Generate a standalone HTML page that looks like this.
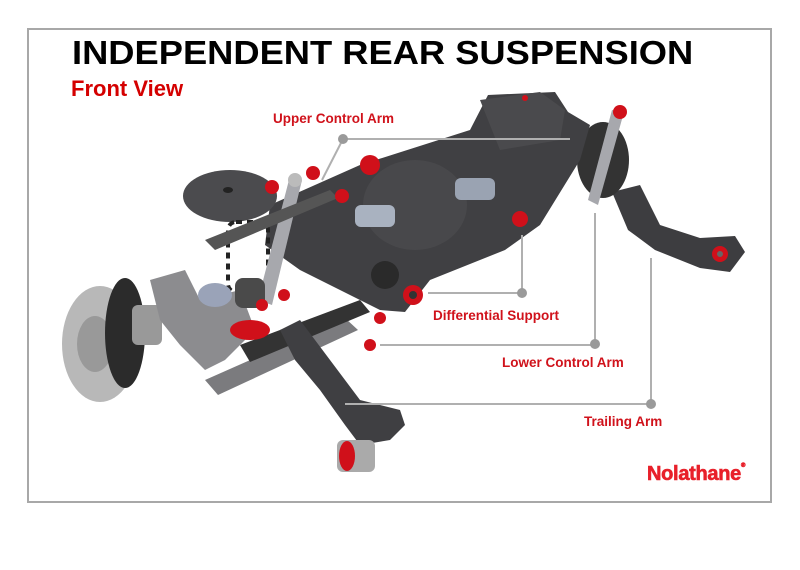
<!DOCTYPE html>
<html><head><meta charset="utf-8"><style>
html,body{margin:0;padding:0;background:#fff;}
body{width:800px;height:570px;position:relative;overflow:hidden;font-family:"Liberation Sans",Arial,sans-serif;}
.frame{position:absolute;left:27px;top:28px;width:741px;height:471px;border:2px solid #a8a8a8;}
.t{position:absolute;font-weight:bold;white-space:nowrap;}
.title{left:72px;top:34px;font-size:33px;color:#000;transform-origin:0 0;transform:scaleX(1.1);}
.sub{left:71px;top:76px;font-size:22px;color:#d40000;}
.lbl{font-size:13.5px;color:#d0121b;}
.logo{left:647px;top:463px;font-size:20px;color:#e8202a;letter-spacing:-0.3px;-webkit-text-stroke:0.6px #e8202a;}
svg{position:absolute;left:0;top:0;}
</style></head><body>
<div class="frame"></div>
<svg width="800" height="570">
 <!-- right trailing arm -->
 <path d="M612,192 L640,185 L660,225 L700,238 L735,236 L745,252 L730,272 L700,268 L655,250 L628,230 Z" fill="#3d3d40"/>
 <circle cx="720" cy="254" r="8" fill="#d0101a"/><circle cx="720" cy="254" r="3" fill="#666"/>
 <!-- right rotor/plate -->
 <ellipse cx="603" cy="160" rx="26" ry="38" fill="#333"/>
 <path d="M612,110 L624,112 L598,205 L588,200 Z" fill="#a7a8ad"/>
 <!-- subframe -->
 <path d="M270,205 L360,165 L470,130 L488,95 L555,92 L568,112 L590,125 L580,160 L540,225 L505,250 L430,280 L405,312 L380,310 L340,290 L300,270 L265,245 Z" fill="#404043"/>
 <path d="M480,100 L540,92 L565,110 L560,140 L500,150 Z" fill="#4a4a4d"/>
 <!-- differential -->
 <ellipse cx="415" cy="205" rx="52" ry="45" fill="#48484b"/>
 <rect x="355" y="205" width="40" height="22" rx="6" fill="#a9b2c0"/>
 <rect x="455" y="178" width="40" height="22" rx="6" fill="#9aa3b2"/>
 <circle cx="385" cy="275" r="14" fill="#2a2a2a"/>
 <!-- left spring seat -->
 <ellipse cx="230" cy="196" rx="47" ry="26" fill="#4b4b4e"/>
 <ellipse cx="228" cy="190" rx="5" ry="3" fill="#222"/>
 <!-- spring -->
 <rect x="228" y="222" width="40" height="70" rx="8" fill="none" stroke="#222" stroke-width="4" stroke-dasharray="6 5"/>
 <!-- shock -->
 <path d="M290,176 L302,180 L272,305 L258,300 Z" fill="#a7a8ad"/>
 <circle cx="295" cy="180" r="7" fill="#bbb"/>
 <!-- upper arm -->
 <path d="M205,240 L330,190 L338,198 L215,250 Z" fill="#555"/>
 <!-- rotor -->
 <ellipse cx="100" cy="344" rx="38" ry="58" fill="#b8b8b8"/>
 <ellipse cx="95" cy="344" rx="18" ry="28" fill="#999"/>
 <ellipse cx="125" cy="333" rx="20" ry="55" fill="#2b2b2b"/>
 <!-- hub / knuckle -->
 <rect x="132" y="305" width="30" height="40" rx="6" fill="#999"/>
 <path d="M150,280 L185,270 L200,300 L240,290 L255,330 L225,360 L205,370 L180,345 L160,320 Z" fill="#8c8c8f"/>
 <ellipse cx="215" cy="295" rx="17" ry="12" fill="#9aa3b8"/>
 <rect x="235" y="278" width="30" height="30" rx="8" fill="#4a4a4a"/>
 <!-- lower control arm -->
 <path d="M205,380 L345,318 L358,330 L218,395 Z" fill="#7b7b7e"/>
 <path d="M240,345 L360,300 L370,312 L250,362 Z" fill="#333"/>
 <!-- left trailing arm -->
 <path d="M280,330 L300,320 L330,360 L360,400 L400,410 L405,425 L390,440 L360,445 L345,425 L320,390 L295,360 Z" fill="#3f3f42"/>
 <rect x="337" y="440" width="38" height="32" rx="6" fill="#aaa"/>
 <ellipse cx="347" cy="456" rx="8" ry="15" fill="#d0101a"/>
 <!-- red bushings -->
 <g fill="#d0101a">
  <circle cx="272" cy="187" r="7"/><circle cx="313" cy="173" r="7"/><circle cx="342" cy="196" r="7"/>
  <circle cx="370" cy="165" r="10"/><circle cx="525" cy="98" r="3"/><circle cx="620" cy="112" r="7"/>
  <circle cx="520" cy="219" r="8"/><circle cx="413" cy="295" r="10"/><circle cx="250" cy="330" r="9"/>
  <ellipse cx="250" cy="330" rx="20" ry="10"/><circle cx="284" cy="295" r="6"/><circle cx="380" cy="318" r="6"/>
  <circle cx="370" cy="345" r="6"/><circle cx="262" cy="305" r="6"/>
 </g>
 <circle cx="413" cy="295" r="4" fill="#333"/>
 <!-- leaders -->
 <g stroke="#b0b0b0" stroke-width="2" fill="none">
  <path d="M343,139 L570,139"/><path d="M343,139 L322,180"/>
  <path d="M428,293 L522,293 L522,235"/>
  <path d="M380,345 L595,345 L595,213"/>
  <path d="M345,404 L651,404 L651,258"/>
 </g>
 <g fill="#9a9a9a">
  <circle cx="343" cy="139" r="5"/><circle cx="522" cy="293" r="5"/><circle cx="595" cy="344" r="5"/><circle cx="651" cy="404" r="5"/>
 </g>
</svg>
<div class="t title">INDEPENDENT REAR SUSPENSION</div>
<div class="t sub">Front View</div>
<div class="t lbl" style="left:273px;top:111px;">Upper Control Arm</div>
<div class="t lbl" style="left:433px;top:308px;">Differential Support</div>
<div class="t lbl" style="left:502px;top:355px;">Lower Control Arm</div>
<div class="t lbl" style="left:584px;top:414px;">Trailing Arm</div>
<div class="t logo">Nolathane<span style="font-size:6px;vertical-align:top;">®</span></div>
</body></html>
